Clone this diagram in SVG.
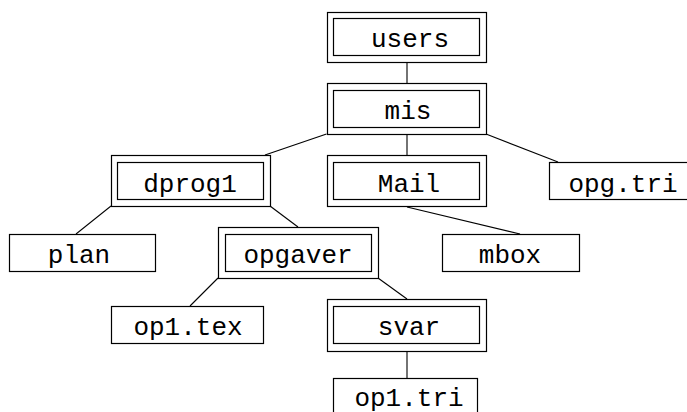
<svg xmlns="http://www.w3.org/2000/svg" width="687" height="412" viewBox="0 0 687 412">
  <style>
    .box { fill: #fff; stroke: #000; stroke-width: 1.2; }
    .edge { stroke: #000; stroke-width: 1.1; fill: none; }
    .lbl { font-family: "Liberation Mono", "DejaVu Sans Mono", monospace; font-size: 26px; text-anchor: middle; fill: #000; }
  </style>
  <rect width="687" height="412" fill="#fff"/>

  <!-- tree edges -->
  <g id="connectors">
    <line class="edge" x1="407" y1="62" x2="407" y2="83"/>
    <line class="edge" x1="326.5" y1="134" x2="265" y2="155"/>
    <line class="edge" x1="407" y1="134" x2="407" y2="155"/>
    <line class="edge" x1="486" y1="134" x2="558" y2="162"/>
    <line class="edge" x1="111" y1="206" x2="76" y2="234"/>
    <line class="edge" x1="270" y1="206" x2="298" y2="227"/>
    <line class="edge" x1="407" y1="207" x2="520" y2="234"/>
    <line class="edge" x1="218" y1="278" x2="190" y2="306"/>
    <line class="edge" x1="378" y1="278" x2="407" y2="299"/>
    <line class="edge" x1="407" y1="351" x2="407" y2="378"/>
  </g>

  <!-- directories: double frame -->
  <g id="users">
    <rect class="box" x="327.5" y="12.5" width="159" height="50"/>
    <rect class="box" x="333.5" y="18.5" width="146" height="37"/>
    <text class="lbl" x="410" y="47">users</text>
  </g>
  <g id="mis">
    <rect class="box" x="327.5" y="83.5" width="159" height="51"/>
    <rect class="box" x="333.5" y="90.5" width="146" height="37"/>
    <text class="lbl" x="408" y="119">mis</text>
  </g>
  <g id="dprog1">
    <rect class="box" x="111.5" y="155.5" width="159" height="51"/>
    <rect class="box" x="117.5" y="162.5" width="146" height="37"/>
    <text class="lbl" x="190" y="192">dprog1</text>
  </g>
  <g id="Mail">
    <rect class="box" x="327.5" y="155.5" width="159" height="51"/>
    <rect class="box" x="333.5" y="162.5" width="146" height="37"/>
    <text class="lbl" x="409" y="192">Mail</text>
  </g>
  <g id="opgaver">
    <rect class="box" x="218.5" y="227.5" width="160" height="51"/>
    <rect class="box" x="225.5" y="234.5" width="146" height="37"/>
    <text class="lbl" x="298" y="263">opgaver</text>
  </g>
  <g id="svar">
    <rect class="box" x="327.5" y="299.5" width="159" height="52"/>
    <rect class="box" x="333.5" y="306.5" width="146" height="37"/>
    <text class="lbl" x="409" y="335">svar</text>
  </g>

  <!-- files: single frame -->
  <g id="opg.tri">
    <rect class="box" x="549.5" y="162.5" width="160" height="37"/>
    <text class="lbl" x="623" y="192">opg.tri</text>
  </g>
  <g id="plan">
    <rect class="box" x="9.5" y="234.5" width="146" height="37"/>
    <text class="lbl" x="79" y="263">plan</text>
  </g>
  <g id="mbox">
    <rect class="box" x="442.5" y="234.5" width="137" height="37"/>
    <text class="lbl" x="510" y="263">mbox</text>
  </g>
  <g id="op1.tex">
    <rect class="box" x="111.5" y="306.5" width="152" height="37"/>
    <text class="lbl" x="188" y="335">op1.tex</text>
  </g>
  <g id="op1.tri">
    <rect class="box" x="333.5" y="378.5" width="144" height="50"/>
    <text class="lbl" x="409" y="406">op1.tri</text>
  </g>
</svg>
